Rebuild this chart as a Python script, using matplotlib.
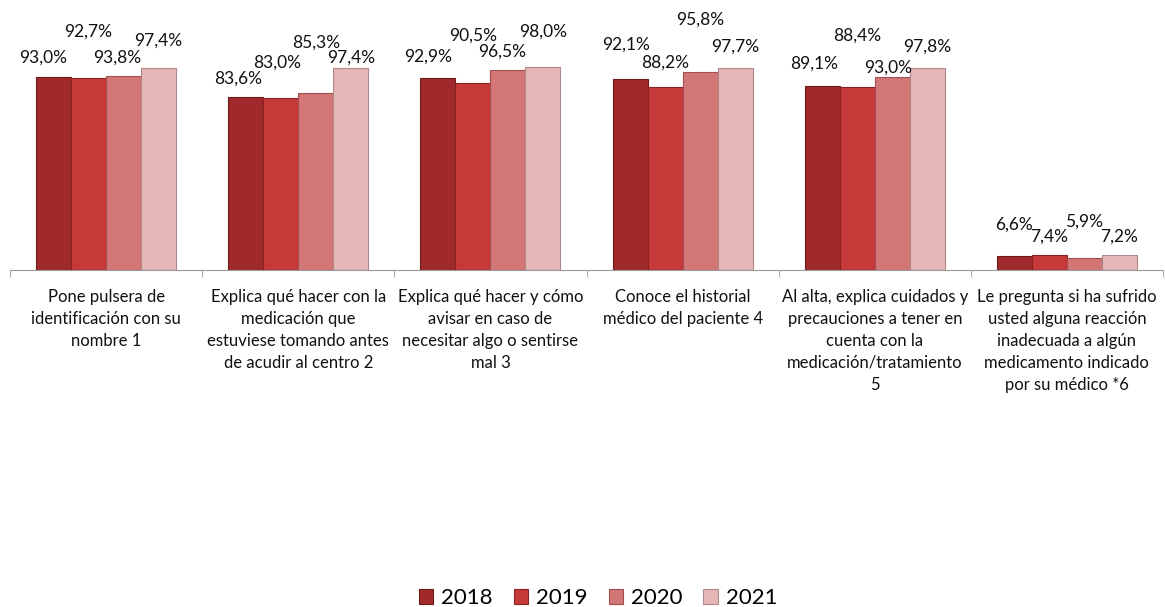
import matplotlib.pyplot as plt
import numpy as np

plt.rcParams["font.family"] = ["Lato", "DejaVu Sans"]

categories = [
    "Pone pulsera de\nidentificación con su\nnombre 1",
    "Explica qué hacer con la\nmedicación que\nestuviese tomando antes\nde acudir al centro 2",
    "Explica qué hacer y cómo\navisar en caso de\nnecesitar algo o sentirse\nmal 3",
    "Conoce el historial\nmédico del paciente 4",
    "Al alta, explica cuidados y\nprecauciones a tener en\ncuenta con la\nmedicación/tratamiento\n5",
    "Le pregunta si ha sufrido\nusted alguna reacción\ninadecuada a algún\nmedicamento indicado\npor su médico *6",
]
years = ["2018", "2019", "2020", "2021"]
v2018 = [93.0, 83.6, 92.9, 92.1, 89.1, 6.6]
v2019 = [92.7, 83.0, 90.5, 88.2, 88.4, 7.4]
v2020 = [93.8, 85.3, 96.5, 95.8, 93.0, 5.9]
v2021 = [97.4, 97.4, 98.0, 97.7, 97.8, 7.2]

colors = ["#a02a2b", "#c73838", "#d27676", "#e4b6b6"]
edges = ["#6e1a1a", "#8a2222", "#a05050", "#b08888"]

# label offsets above bar top in pixels (Excel-style staggered placement)
label_dy = [
    [20, 46, 18, 28],
    [18, 36, 51, 11],
    [21, 47, 19, 36],
    [35, 25, 52, 21],
    [22, 51, 10, 21],
    [32, 18, 36, 18],
]
label_dx = [
    [-10, 0, -6, 0],
    [-8, -4, 0, 0],
    [-10, 0, -6, 0],
    [-4, 0, 0, 0],
    [-8, 0, -4, 0],
    [0, 0, 0, 0],
]

fig = plt.figure(figsize=(11.65, 6.07), dpi=100)
ax = fig.add_axes([10 / 1165, (607 - 270) / 607, 1153 / 1165, 207 / 607])

x = np.arange(len(categories))
w = 0.182
series = [v2018, v2019, v2020, v2021]
for i, vals in enumerate(series):
    pos = x + (i - 1.5) * w
    ax.bar(pos, vals, width=w, color=colors[i], edgecolor=edges[i],
           linewidth=0.8, label=years[i], zorder=2)
    for j, v in enumerate(vals):
        ax.annotate(f"{v:.1f}%".replace(".", ","), (pos[j], v),
                    xytext=(label_dx[j][i], label_dy[j][i]),
                    textcoords="offset pixels", ha="center", va="center",
                    fontsize=12.5, color="#111111")

ax.set_xlim(-0.5, len(categories) - 0.5)
ax.set_ylim(0, 100)
ax.set_yticks([])
for s in ["top", "right", "left"]:
    ax.spines[s].set_visible(False)
ax.spines["bottom"].set_color("#999999")
ax.set_xticks(x)
ax.set_xticklabels(categories, fontsize=12, linespacing=1.45, color="#111111")
ax.tick_params(axis="x", which="major", length=0, pad=14)
ax.set_xticks(np.arange(len(categories) + 1) - 0.5, minor=True)
ax.tick_params(axis="x", which="minor", length=5, color="#999999")

fig.legend(loc="center", bbox_to_anchor=(598 / 1165, 1 - 598 / 607), ncol=4,
           frameon=False, fontsize=16, handlelength=0.65, handleheight=0.65,
           handletextpad=0.35, columnspacing=0.95)

fig.savefig("out.png", dpi=100)
